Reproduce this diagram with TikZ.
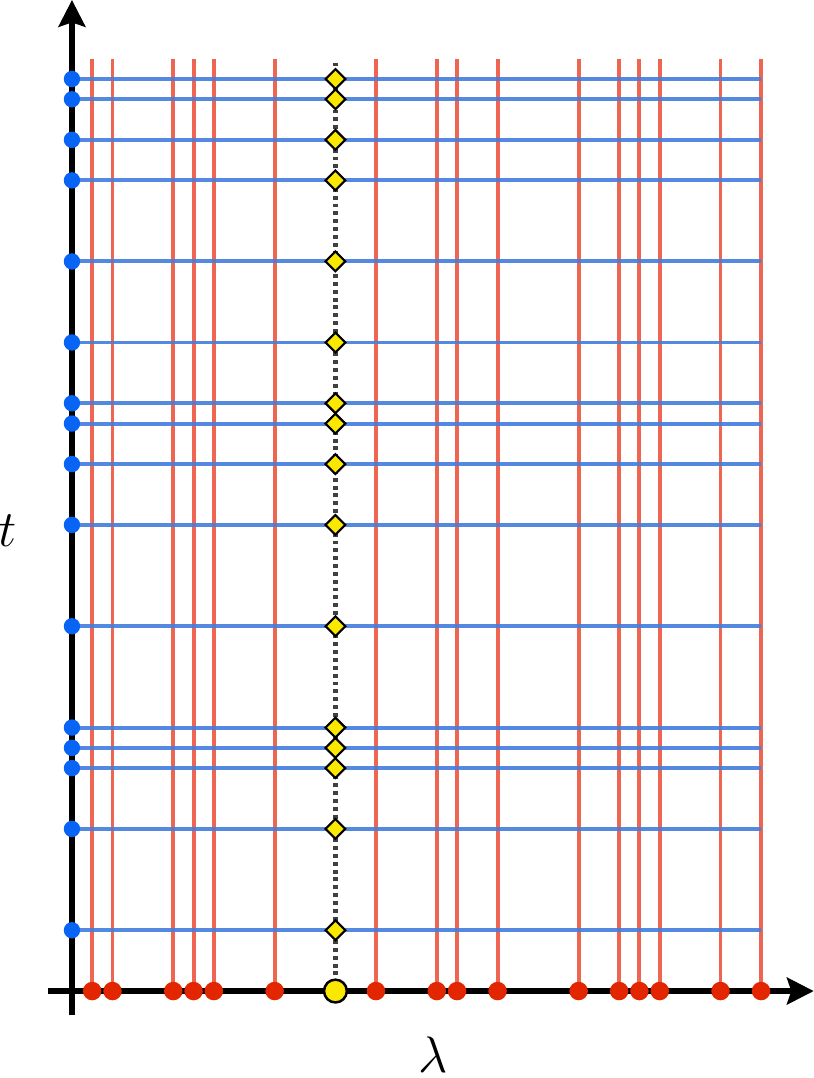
\documentclass[tikz,border=0pt]{standalone}
\usetikzlibrary{arrows.meta,shapes.geometric}
\definecolor{redl}{RGB}{238,102,82}
\definecolor{redd}{RGB}{226,38,0}
\definecolor{bluel}{RGB}{70,126,220}
\definecolor{blued}{RGB}{8,100,245}
\definecolor{yel}{RGB}{250,232,0}
\begin{document}
\begin{tikzpicture}[x=0.2cm,y=0.2cm,
  axis/.style={line width=1.7pt,-{Stealth[length=7.5pt,width=7.5pt,inset=1.2pt]}},
  redline/.style={line width=1.1pt,draw=redl},
  blueline/.style={line width=1.1pt,draw=bluel,opacity=0.92},
  dotline/.style={line width=1.2pt,draw=black!75,dash pattern=on 1.1pt off 1.1pt},
  reddot/.style={circle,fill=redd,minimum size=5.2pt,inner sep=0pt},
  bluedot/.style={circle,fill=blued,minimum size=4.6pt,inner sep=0pt},
  ydiam/.style={diamond,draw=black,fill=yel,line width=0.6pt,minimum size=5.8pt,inner sep=0pt},
  ycirc/.style={circle,draw=black,fill=yel,line width=0.7pt,minimum size=6.4pt,inner sep=0pt},
  lab/.style={font=\Large}]
\useasboundingbox (-3.55,-4.29) rectangle (36.6,48.9);
% red vertical lines
\foreach \x in {1,2,5,6,7,10,15,18,19,21,25,27,28,29,32,34}{
  \coordinate (rb\x) at (\x,0);
  \coordinate (rt\x) at (\x,46);
  \draw[redline] (rb\x) -- (rt\x);
}
% blue horizontal lines
\foreach \y in {3,8,11,12,13,18,23,26,28,29,32,36,40,42,44,45}{
  \coordinate (bl\y) at (0,\y);
  \coordinate (br\y) at (34,\y);
  \draw[blueline] (bl\y) -- (br\y);
}
% dotted line
\coordinate (yb) at (13,0);
\coordinate (yt) at (13,46);
\draw[dotline] (yb) -- (yt);
% axes
\coordinate (xs) at (-1.2,0);
\coordinate (xe) at (36.6,0);
\coordinate (ys) at (0,-1.2);
\coordinate (ye) at (0,48.9);
\draw[axis] (xs) -- (xe);
\draw[axis] (ys) -- (ye);
% dots
\foreach \x in {1,2,5,6,7,10,15,18,19,21,25,27,28,29,32,34}{
  \node[reddot] (rd\x) at (rb\x) {};
}
\foreach \y in {3,8,11,12,13,18,23,26,28,29,32,36,40,42,44,45}{
  \node[bluedot] (bd\y) at (bl\y) {};
  \node[ydiam] (yd\y) at (13,\y) {};
}
\node[ycirc] (yc) at (yb) {};
% labels
\node[lab] (tlab) at (-3.16,22.7) {$t$};
\node[lab] (llab) at (17.8,-3.16) {$\lambda$};
\end{tikzpicture}
\end{document}
